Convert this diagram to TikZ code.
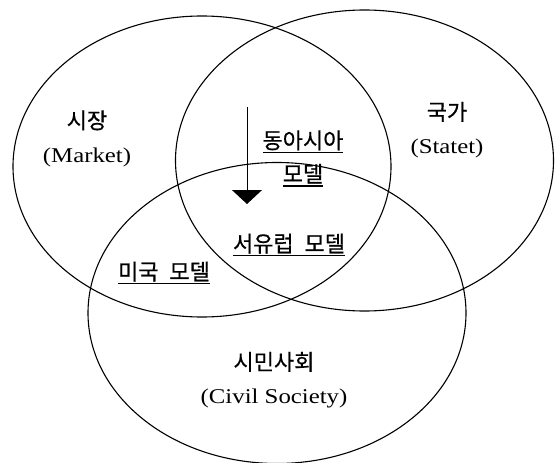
\documentclass[tikz,border=0pt]{standalone}
\usepackage{fontspec}
\setmainfont{Liberation Serif}[FakeStretch=1.18]
\newfontfamily\kr{Noto Sans CJK KR}[WordSpace=2.2, FakeBold=0.6]
\usetikzlibrary{shapes.geometric,arrows.meta}
% thicker underline, set a little lower
\newcommand\modelline[1]{\setbox0\hbox{#1}\rlap{\vrule height -3pt depth 4.6pt width \wd0}\box0}

\begin{document}
\begin{tikzpicture}[x=1pt, y=-1pt,
    set/.style={ellipse, draw, line width=1.1pt, minimum width=378pt, minimum height=301pt, inner sep=0pt},
    setname/.style={align=center, font=\fontsize{21}{33.5}\selectfont, inner sep=1pt},
    model/.style={align=center, font=\kr\fontsize{22}{33.5}\selectfont, inner sep=1pt},
    arrow/.style={-{Triangle[width=30pt,length=14pt]}, line width=1pt}]

\useasboundingbox (0,0) rectangle (555,463);

% the three sets
\node[set] (market) at (202,166.5) {};
\node[set] (state) at (364.5,160.5) {};
\node[set] (civil) at (277,313) {};

\node[setname] (mkt) at (87,138.5) {{\kr\fontsize{22}{33.5}\selectfont 시장}\\(Market)};
\node[setname] (stt) at (447,130) {{\kr\fontsize{22}{33.5}\selectfont 국가}\\(Statet)};
\node[setname] (cvs) at (274,380) {{\kr\fontsize{22}{33.5}\selectfont 시민사회}\\(Civil Society)};

% models in the overlaps
\node[model] (east) at (303,158.5) {\modelline{동아시아}\\\modelline{모델}};
\node[model] (west) at (289,245) {\modelline{서유럽 모델}};
\node[model] (us) at (164,273) {\modelline{미국 모델}};

\coordinate (arrtop) at (247,107);
\coordinate (arrtip) at (247,204);
\draw[arrow] (arrtop) -- (arrtip);

\end{tikzpicture}
\end{document}
